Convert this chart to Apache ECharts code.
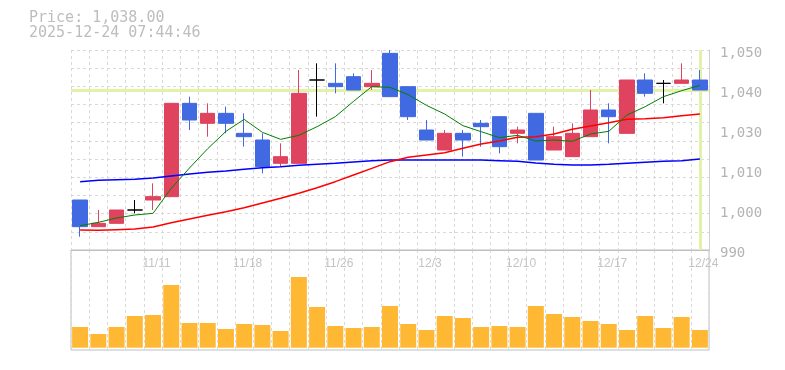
<!DOCTYPE html>
<html>
<head>
<meta charset="utf-8">
<script src="https://cdn.jsdelivr.net/npm/echarts@6/dist/echarts.min.js"></script>
<style>
html,body{margin:0;padding:0;background:#fff;}
#chart{width:785px;height:370px;}
</style>
</head>
<body>
<div id="chart"></div>
<script>
// ---- data ----
var titleLine1 = 'Price: 1,038.00';
var titleLine2 = '2025-12-24 07:44:46';

var dates = ['11/5','11/6','11/7','11/10','11/11','11/12','11/13','11/14','11/17','11/18',
             '11/19','11/20','11/21','11/25','11/26','11/27','11/28','12/1','12/2','12/3',
             '12/4','12/5','12/8','12/9','12/10','12/11','12/12','12/15','12/16','12/17',
             '12/18','12/19','12/22','12/23','12/24'];

var opens  = [1005, 997, 998,1002,1005,1006,1034,1028,1031,1025,
              1023,1016,1016,1041,1040,1042,1039,1049,1039,1026,
              1020,1025,1028,1030,1025,1031,1020,1018,1024,1032,
              1025,1041,1040,1040,1041];
var closes = [ 997, 998,1002,1002,1006,1034,1029,1031,1028,1024,
              1015,1018,1037,1041,1039,1038,1040,1036,1030,1023,
              1025,1023,1027,1021,1026,1017,1024,1025,1032,1030,
              1041,1037,1040,1041,1038];
var lows   = [ 994, 997, 998,1001,1002,1006,1026,1024,1025,1021,
              1013,1015,1016,1030,1037,1038,1038,1036,1029,1023,
              1020,1018,1021,1019,1022,1017,1020,1018,1024,1022,
              1025,1036,1034,1040,1038];
var highs  = [1005,1002,1002,1005,1010,1034,1036,1034,1033,1031,
              1025,1022,1044,1046,1046,1043,1044,1050,1039,1029,
              1026,1026,1029,1030,1027,1031,1027,1028,1038,1034,
              1041,1043,1041,1046,1044];

var ma5  = [ 997.3, 998.3, 999.6,1000.5,1001.0,1008.5,1014.6,1020.4,1025.6,1029.2,
            1025.3,1023.2,1024.4,1027.0,1030.0,1034.6,1039.0,1038.8,1036.6,1033.4,
            1030.8,1027.3,1025.5,1023.7,1024.4,1022.7,1023.0,1022.6,1024.8,1025.6,
            1030.5,1033.0,1036.0,1037.8,1039.4];
var ma25 = [ 996.0, 995.9, 996.1, 996.3, 996.9, 998.2, 999.3,1000.4,1001.5,1002.7,
            1004.1,1005.5,1007.0,1008.7,1010.5,1012.5,1014.5,1016.5,1017.8,1018.5,
            1019.2,1020.5,1021.8,1022.7,1023.8,1024.0,1024.8,1026.2,1027.2,1028.2,
            1029.2,1029.4,1029.7,1030.3,1030.8];
var ma75 = [1010.5,1010.9,1011.1,1011.2,1011.6,1012.2,1012.8,1013.3,1013.7,1014.2,
            1014.7,1015.0,1015.4,1015.7,1016.0,1016.4,1016.8,1017.0,1017.0,1017.0,
            1017.0,1017.0,1017.0,1016.8,1016.6,1016.1,1015.7,1015.5,1015.5,1015.7,
            1016.0,1016.3,1016.6,1016.8,1017.3];

var volumes = [207,137,207,317,327,627,247,247,187,237,
               227,167,707,407,217,197,207,417,237,177,
               317,297,207,217,207,417,337,307,267,237,
               177,317,197,307,177];

var priceMin = 990, priceMax = 1050;
var priceTickLabels = ['990','1,000','1,010','1,030','1,040','1,050'];
var currentPrice = 1038;

// ---- chart ----
var candleData = dates.map(function (d, i) { return [opens[i], closes[i], lows[i], highs[i]]; });
var dash = { color: '#d9d9d9', width: 1, type: [3, 3] };
var mono = 'DejaVu Sans Mono';

var chart = echarts.init(document.getElementById('chart'), null, { renderer: 'canvas' });
chart.setOption({
  animation: false,
  backgroundColor: '#ffffff',
  title: {
    text: titleLine1 + '\n' + titleLine2,
    left: 29, top: 11, padding: 0,
    textStyle: { fontFamily: mono, fontSize: 15, fontWeight: 'normal', color: '#bdbdbd', lineHeight: 15 }
  },
  grid: [
    { left: 71, top: 50, width: 638, height: 200 },
    { left: 71, top: 250, width: 638, height: 100, show: true, borderColor: '#bfbfbf', borderWidth: 1, backgroundColor: 'transparent' }
  ],
  xAxis: [
    {
      type: 'category', gridIndex: 0, data: dates, boundaryGap: true,
      axisLine: { show: true, lineStyle: { color: '#bfbfbf', width: 1 } },
      axisTick: { show: false, interval: 0 },
      splitLine: { show: true, interval: 0, lineStyle: dash },
      axisLabel: {
        interval: function (idx) { return idx % 5 === 4; },
        fontFamily: 'Liberation Sans', fontSize: 12, color: '#c4c4c4', margin: 8,
        padding: [0, 0, 0, 7]
      }
    },
    {
      type: 'category', gridIndex: 1, data: dates, boundaryGap: true,
      axisLine: { show: false }, axisTick: { show: false }, axisLabel: { show: false },
      splitLine: { show: true, interval: 0, lineStyle: dash }
    }
  ],
  yAxis: [
    {
      type: 'value', gridIndex: 0, min: priceMin, max: priceMax, position: 'right',
      axisLine: { show: true, lineStyle: { color: '#cfcfcf' } },
      axisTick: { show: false }, axisLabel: { show: false }, splitLine: { show: false }
    },
    {
      type: 'value', gridIndex: 0, min: 0, max: 11, interval: 1, position: 'left',
      axisLine: { show: false }, axisTick: { show: false }, axisLabel: { show: false },
      splitLine: { show: true, lineStyle: dash }
    },
    {
      type: 'value', gridIndex: 0, min: 0, max: priceTickLabels.length - 1, interval: 1, position: 'right',
      axisLine: { show: false }, axisTick: { show: false }, splitLine: { show: false },
      axisLabel: {
        margin: 11, fontFamily: mono, fontSize: 14, color: '#b3b3b3',
        formatter: function (v) { return '{p|' + priceTickLabels[Math.round(v)] + '}'; },
        rich: { p: { fontFamily: mono, fontSize: 14, color: '#b3b3b3', padding: [7, 0, 0, 0] } }
      }
    },
    {
      type: 'value', gridIndex: 1, min: -23, max: 977, show: false,
      splitLine: { show: false }
    }
  ],
  series: [
    {
      name: 'marker', type: 'line', xAxisIndex: 0, yAxisIndex: 0, data: closes,
      symbol: 'none', lineStyle: { opacity: 0 }, silent: true, z: 1,
      markLine: {
        silent: true, symbol: ['none', 'none'], z: 1, animation: false,
        label: { show: false },
        lineStyle: { color: '#e3f2a9', width: 3, type: 'solid' },
        emphasis: { disabled: true },
        data: [{ yAxis: currentPrice }, { xAxis: dates[dates.length - 1] }]
      }
    },
    {
      name: 'price', type: 'candlestick', xAxisIndex: 0, yAxisIndex: 0, data: candleData,
      barWidth: 15, z: 3,
      itemStyle: {
        color: '#e0435e', color0: '#4169e1',
        borderColor: '#e0435e', borderColor0: '#4169e1', borderColorDoji: '#000000',
        borderWidth: 1
      }
    },
    {
      name: 'MA75', type: 'line', xAxisIndex: 0, yAxisIndex: 0, data: ma75, symbol: 'none', z: 4,
      lineStyle: { color: '#0000ff', width: 1.5 }
    },
    {
      name: 'MA25', type: 'line', xAxisIndex: 0, yAxisIndex: 0, data: ma25, symbol: 'none', z: 4,
      lineStyle: { color: '#ff0000', width: 1.5 }
    },
    {
      name: 'MA5', type: 'line', xAxisIndex: 0, yAxisIndex: 0, data: ma5, symbol: 'none', z: 5,
      lineStyle: { color: '#008000', width: 1 }
    },
    {
      name: 'volume', type: 'bar', xAxisIndex: 1, yAxisIndex: 3, data: volumes,
      barWidth: 16, itemStyle: { color: '#ffb833' }
    }
  ]
});
</script>
</body>
</html>
